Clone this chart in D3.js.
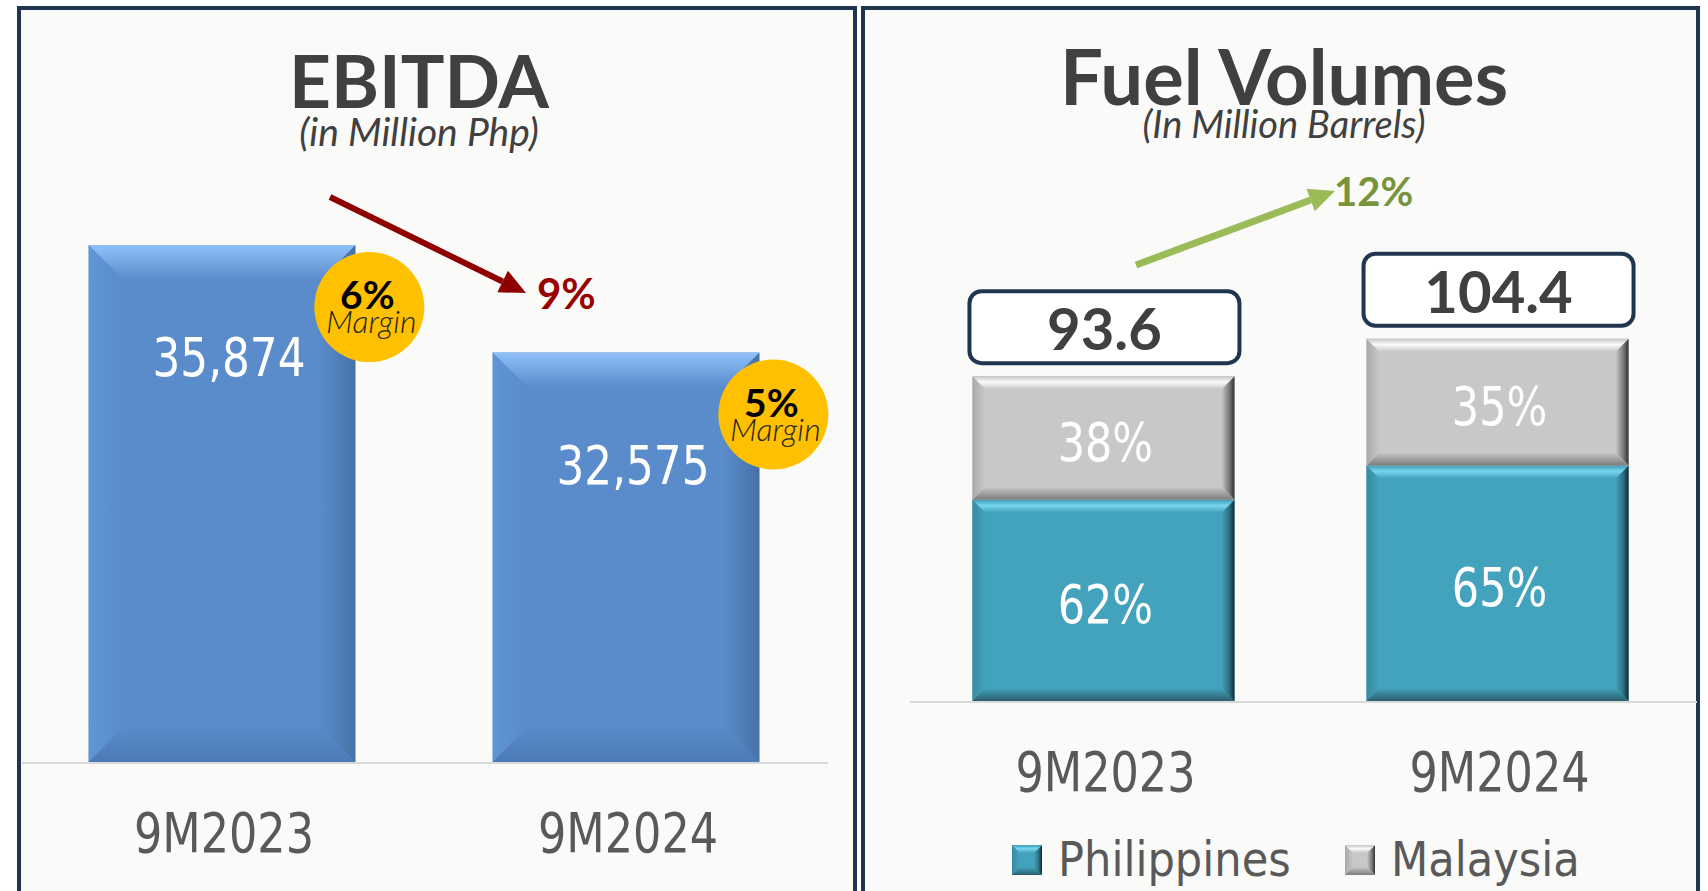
<!DOCTYPE html>
<html>
<head>
<meta charset="utf-8">
<script src="https://cdn.jsdelivr.net/npm/d3@7"></script>
<style>
  body { margin: 0; background: #ffffff; }
  svg { display: block; }
  .din { font-family: "DejaVu Sans Condensed", "DejaVu Sans", sans-serif; font-stretch: condensed; }
  .cal { font-family: Lato, "Open Sans", sans-serif; }
</style>
</head>
<body>
<svg id="chart" width="1708" height="891"></svg>
<script>
// EBITDA panel
var ebitdaCats = ["9M2023", "9M2024"];
var ebitdaValues = [35874, 32575];
var marginLabels = ["6%", "5%"];
var ebitdaChange = "9%";

// Fuel volumes panel (million barrels)
var fuelCats = ["9M2023", "9M2024"];
var phVolumes = [58.0, 67.9];
var myVolumes = [35.6, 36.5];
var phShares = ["62%", "65%"];
var myShares = ["38%", "35%"];
var fuelTotals = [93.6, 104.4];
var fuelChange = "12%";
var legendNames = ["Philippines", "Malaysia"];

var svg = d3.select("#chart");
var defs = svg.append("defs");

function grad(id, dir, stops) {
	var g = defs.append("linearGradient").attr("id", id)
		.attr("x1", 0).attr("y1", 0)
		.attr("x2", dir === "h" ? 1 : 0).attr("y2", dir === "h" ? 0 : 1);
	stops.forEach(function (s) {
		g.append("stop").attr("offset", s[0]).attr("stop-color", s[1]);
	});
}

// bevel styles
var styles = {
	blue: { main: "#5a8bca", b: 35,
		top: [[0, "#8fc1fb"], [1, "#5a8bca"]],
		left: [[0, "#5f95d6"], [1, "#5a8bca"]],
		right: [[0, "#5a8bca"], [1, "#4571a7"]],
		bottom: [[0, "#5a8bca"], [1, "#4b7ab5"]] },
	teal: { main: "#43a2bc", b: 13,
		top: [[0, "#3f9bb4"], [0.45, "#78d6ef"], [1, "#43a2bc"]],
		left: [[0, "#378aa1"], [1, "#43a2bc"]],
		right: [[0, "#43a2bc"], [0.6, "#2c6f82"], [1, "#122830"]],
		bottom: [[0, "#43a2bc"], [1, "#2a5f6e"]] },
	gray: { main: "#c8c8c8", b: 13,
		top: [[0, "#c4c4c4"], [0.45, "#fafafa"], [1, "#c8c8c8"]],
		left: [[0, "#a9a9a9"], [1, "#c8c8c8"]],
		right: [[0, "#c8c8c8"], [0.6, "#7a7a7a"], [1, "#303030"]],
		bottom: [[0, "#c8c8c8"], [1, "#7c7c7c"]] }
};

Object.keys(styles).forEach(function (k) {
	var s = styles[k];
	grad(k + "-top", "v", s.top);
	grad(k + "-left", "h", s.left);
	grad(k + "-right", "h", s.right);
	grad(k + "-bottom", "v", s.bottom);
});

function bevel(g, x, y, w, h, style, size) {
	var s = styles[style];
	var b = size || s.b;
	b = Math.min(b, h / 2, w / 2);
	var x2 = x + w, y2 = y + h;
	g.append("rect").attr("x", x).attr("y", y).attr("width", w).attr("height", h).attr("fill", s.main);
	var pts = {
		top: [[x, y], [x2, y], [x2 - b, y + b], [x + b, y + b]],
		left: [[x, y], [x + b, y + b], [x + b, y2 - b], [x, y2]],
		right: [[x2, y], [x2, y2], [x2 - b, y2 - b], [x2 - b, y + b]],
		bottom: [[x, y2], [x + b, y2 - b], [x2 - b, y2 - b], [x2, y2]]
	};
	["left", "right", "bottom", "top"].forEach(function (side) {
		g.append("polygon")
			.attr("points", pts[side].map(function (p) { return p.join(","); }).join(" "))
			.attr("fill", "url(#" + style + "-" + side + ")");
	});
}

// condensed number text (narrowed like the DIN face of the original)
function dinText(g, x, y, size, fill, txt, sx) {
	return g.append("text").attr("class", "din")
		.attr("transform", "translate(" + x + "," + y + ") scale(" + (sx || 0.9) + ",1)")
		.attr("text-anchor", "middle").attr("font-size", size).attr("fill", fill)
		.text(txt);
}

function arrow(g, x1, y1, x2, y2, color, width, headLen, headW) {
	var ang = Math.atan2(y2 - y1, x2 - x1);
	var bx = x2 - headLen * Math.cos(ang), by = y2 - headLen * Math.sin(ang);
	var nx = -Math.sin(ang) * headW / 2, ny = Math.cos(ang) * headW / 2;
	g.append("line").attr("x1", x1).attr("y1", y1).attr("x2", bx).attr("y2", by)
		.attr("stroke", color).attr("stroke-width", width);
	g.append("polygon")
		.attr("points", [[x2, y2], [bx + nx, by + ny], [bx - nx, by - ny]].map(function (p) { return p.join(","); }).join(" "))
		.attr("fill", color);
}

// panels
svg.append("rect").attr("x", 19).attr("y", 8).attr("width", 836).attr("height", 920)
	.attr("fill", "#fafaf8").attr("stroke", "#1f3550").attr("stroke-width", 4);
svg.append("rect").attr("x", 863).attr("y", 8).attr("width", 835).attr("height", 920)
	.attr("fill", "#fafaf8").attr("stroke", "#1f3550").attr("stroke-width", 4);

// ---------- EBITDA ----------
var left = svg.append("g");

var x1 = d3.scaleBand().domain(ebitdaCats).range([22, 826]).paddingInner(0.34).paddingOuter(0.165);
var y1 = d3.scaleLinear().domain([20000, 36000]).range([762, 241]);

left.append("text").attr("class", "cal").attr("x", 419).attr("y", 108)
	.attr("text-anchor", "middle").attr("font-size", 73).attr("font-weight", 700)
	.attr("fill", "#404040").text("EBITDA");
left.append("text").attr("class", "cal").attr("x", 419).attr("y", 146)
	.attr("text-anchor", "middle").attr("font-size", 39).attr("font-style", "italic")
	.attr("font-weight", 400).attr("fill", "#404040").text("(in Million Php)");

ebitdaValues.forEach(function (v, i) {
	bevel(left, x1(ebitdaCats[i]), y1(v), x1.bandwidth(), y1(20000) - y1(v), "blue");
});

left.append("line").attr("x1", 22).attr("x2", 828).attr("y1", y1(20000) + 1).attr("y2", y1(20000) + 1)
	.attr("stroke", "#d9d9d9").attr("stroke-width", 2);

ebitdaValues.forEach(function (v, i) {
	dinText(left, x1(ebitdaCats[i]) + x1.bandwidth() / 2 + 7, y1(v) + 131, 54, "#ffffff", d3.format(",")(v));
});

ebitdaCats.forEach(function (c) {
	dinText(left, x1(c) + x1.bandwidth() / 2 + 2, 852, 55, "#595959", c);
});

// margin badges
ebitdaValues.forEach(function (v, i) {
	var cx = x1(ebitdaCats[i]) + x1.bandwidth() + 14;
	var cy = y1(v) + 62;
	left.append("circle").attr("cx", cx).attr("cy", cy).attr("r", 55).attr("fill", "#ffc000");
	left.append("text").attr("class", "cal").attr("x", cx - 2).attr("y", cy + 2)
		.attr("text-anchor", "middle").attr("font-size", 39).attr("font-weight", 700)
		.attr("fill", "#000000").text(marginLabels[i]);
	left.append("text").attr("class", "cal").attr("x", cx + 2).attr("y", cy + 26)
		.attr("text-anchor", "middle").attr("font-size", 32).attr("font-style", "italic")
		.attr("font-weight", 300).attr("fill", "#262626").text("Margin");
});

arrow(left, 330, 197, 526, 293, "#8f0000", 6, 26, 24);
left.append("text").attr("class", "cal").attr("x", 537).attr("y", 309)
	.attr("font-size", 42).attr("font-weight", 700).attr("fill", "#990000").text(ebitdaChange);

// ---------- Fuel Volumes ----------
var right = svg.append("g");

var x2 = d3.scaleBand().domain(fuelCats).range([907, 1694]).paddingInner(0.335).paddingOuter(0.166);
var y2 = d3.scaleLinear().domain([0, 100]).range([701, 354]);

right.append("text").attr("class", "cal").attr("x", 1284).attr("y", 105)
	.attr("text-anchor", "middle").attr("font-size", 76).attr("font-weight", 700)
	.attr("fill", "#404040").text("Fuel Volumes");
right.append("text").attr("class", "cal").attr("x", 1284).attr("y", 138)
	.attr("text-anchor", "middle").attr("font-size", 38).attr("font-style", "italic")
	.attr("font-weight", 400).attr("fill", "#404040").text("(In Million Barrels)");

var rows = fuelCats.map(function (c, i) {
	return { cat: c, Philippines: phVolumes[i], Malaysia: myVolumes[i] };
});
var series = d3.stack().keys(legendNames)(rows);
var segStyle = { Philippines: "teal", Malaysia: "gray" };
var segLabels = { Philippines: phShares, Malaysia: myShares };

series.forEach(function (s) {
	s.forEach(function (d, i) {
		var bx = x2(d.data.cat), top = y2(d[1]), bot = y2(d[0]);
		bevel(right, bx, top, x2.bandwidth(), bot - top, segStyle[s.key]);
		dinText(right, bx + x2.bandwidth() / 2 + 2, (top + bot) / 2 + 23, 53, "#ffffff", segLabels[s.key][i]);
	});
});

right.append("line").attr("x1", 910).attr("x2", 1697).attr("y1", y2(0) + 1).attr("y2", y2(0) + 1)
	.attr("stroke", "#d9d9d9").attr("stroke-width", 2);

// total boxes
fuelTotals.forEach(function (t, i) {
	var cx = x2(fuelCats[i]) + x2.bandwidth() / 2 + 1;
	var bottom = y2(t) - 13;
	right.append("rect").attr("x", cx - 135).attr("y", bottom - 72).attr("width", 270).attr("height", 72)
		.attr("rx", 12).attr("fill", "#ffffff").attr("stroke", "#1f3550").attr("stroke-width", 4);
	right.append("text").attr("class", "cal").attr("x", cx).attr("y", bottom - 13)
		.attr("text-anchor", "middle").attr("font-size", 58).attr("font-weight", 700)
		.attr("fill", "#404040").text(d3.format(".1f")(t));
});

arrow(right, 1136, 265, 1335, 191, "#9bbb59", 7, 26, 24);
right.append("text").attr("class", "cal").attr("x", 1334).attr("y", 206)
	.attr("font-size", 40).attr("font-weight", 700).attr("fill", "#77933c").text(fuelChange);

fuelCats.forEach(function (c) {
	dinText(right, x2(c) + x2.bandwidth() / 2 + 2, 791, 55, "#595959", c);
});

// legend
var legX = [1012, 1345];
legendNames.forEach(function (n, i) {
	bevel(right, legX[i], 845, 30, 30, segStyle[n], 8);
	right.append("text").attr("class", "din").attr("x", legX[i] + 46).attr("y", 876)
		.attr("font-size", 48).attr("fill", "#595959").text(n);
});
</script>
</body>
</html>
